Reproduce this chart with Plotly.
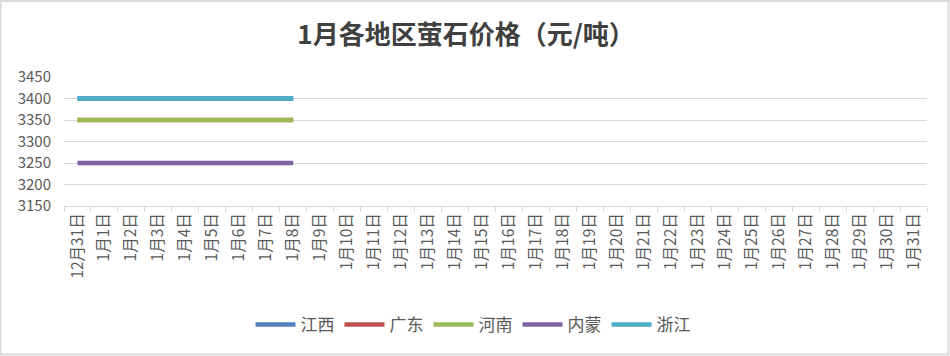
import plotly.graph_objects as go

categories = ["12月31日"] + [f"1月{d}日" for d in range(1, 32)]
series_names = ["江西", "广东", "河南", "内蒙", "浙江"]
series_colors = ["#4f81bd", "#c0504d", "#9bbb59", "#8064a2", "#4bacc6"]
jiangxi = [3400] * 9
guangdong = [3350] * 9
henan = [3350] * 9
neimeng = [3250] * 9
zhejiang = [3400] * 9
series_values = [jiangxi, guangdong, henan, neimeng, zhejiang]

W, H = 950, 356
L, R, T, B = 64, 23, 77, 150
pw, ph = W - L - R, H - T - B

fig = go.Figure()
for name, color, vals in zip(series_names, series_colors, series_values):
    fig.add_trace(go.Scatter(
        x=categories[:len(vals)], y=vals, name=name, mode="lines",
        line=dict(color=color, width=4.5),
    ))

fig.update_layout(
    width=W, height=H,
    margin=dict(l=L, r=R, t=T, b=B, autoexpand=False),
    paper_bgcolor="white", plot_bgcolor="white",
    font=dict(family="Noto Sans CJK SC, sans-serif", color="#595959"),
    title=dict(text="<b>1月各地区萤石价格（元/吨）</b>", x=466 / W, xanchor="center",
               y=1 - 35 / H, yanchor="middle",
               font=dict(size=26, color="#404040", family="Noto Sans CJK SC, sans-serif")),
    xaxis=dict(
        type="category", categoryorder="array", categoryarray=categories,
        range=[-0.5, len(categories) - 0.5],
        tickmode="array", tickvals=categories, ticktext=categories,
        tickangle=-90, tickfont=dict(size=15.5, color="#595959"),
        showgrid=False, showline=True, linecolor="#d9d9d9", linewidth=1,
        ticks="outside", tickson="boundaries", ticklen=5, tickcolor="#d9d9d9",
        zeroline=False, automargin=False,
    ),
    yaxis=dict(
        range=[3150, 3450], dtick=50, tick0=3150,
        tickfont=dict(size=15, color="#595959"),
        showgrid=True, gridcolor="#d9d9d9", gridwidth=1,
        showline=False, zeroline=False, ticks="", ticklabelstandoff=12,
        automargin=False,
    ),
    legend=dict(orientation="h", x=(473 - L) / pw, xanchor="center",
                y=(206 - 325) / ph, yanchor="middle",
                font=dict(size=17, color="#595959"),
                itemwidth=40, traceorder="normal"),
    showlegend=True,
)

fig.add_shape(type="rect", xref="paper", yref="paper",
              x0=(0.5 - L) / pw, x1=(W - 1.5 - L) / pw,
              y0=-(B - 1.5) / ph, y1=1 + (T - 1) / ph,
              line=dict(color="#d9d9d9", width=2), fillcolor="rgba(0,0,0,0)", layer="below")

fig.write_html("out.html")
